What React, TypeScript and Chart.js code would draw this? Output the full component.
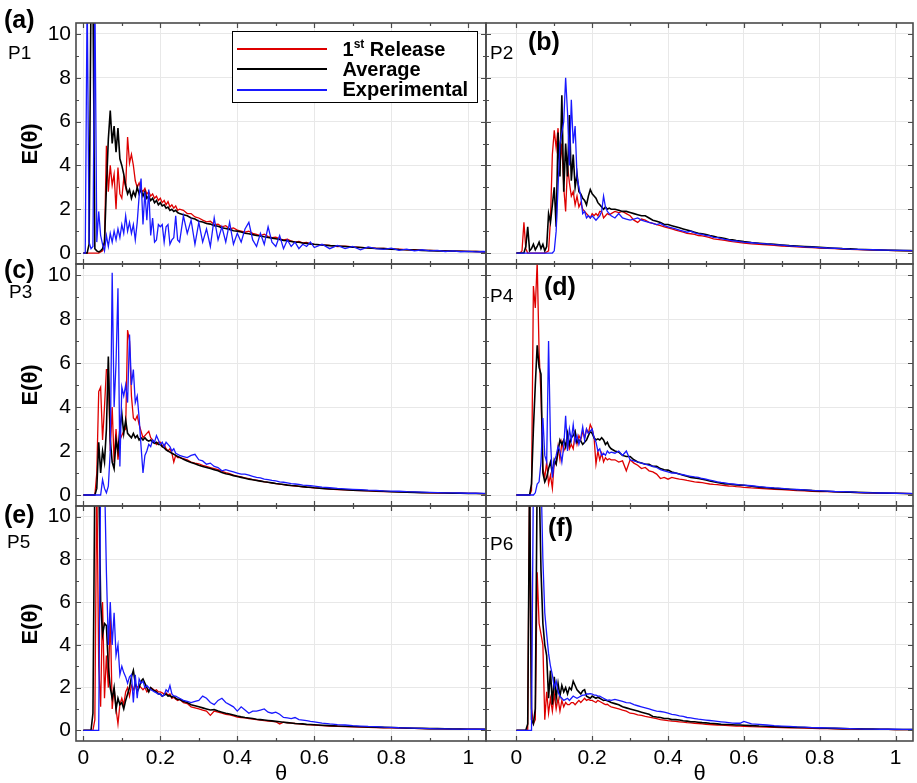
import React, { useEffect, useRef } from "react";
import { Chart, registerables } from "chart.js";

Chart.register(...registerables);

const FONT = "'Liberation Sans', Arial, Helvetica, sans-serif";
Chart.defaults.font.family = FONT;

// ---------------- DATA ----------------
const THETA = [
  0, 0.005, 0.01, 0.015, 0.02, 0.025, 0.03, 0.035, 0.04, 0.045,
  0.05, 0.055, 0.06, 0.065, 0.07, 0.075, 0.08, 0.085, 0.09, 0.095,
  0.1, 0.105, 0.11, 0.115, 0.12, 0.125, 0.13, 0.135, 0.14, 0.145,
  0.15, 0.155, 0.16, 0.165, 0.17, 0.175, 0.18, 0.185, 0.19, 0.195,
  0.2, 0.205, 0.21, 0.215, 0.22, 0.225, 0.23, 0.235, 0.24, 0.245, 0.25,
  0.26, 0.27, 0.28, 0.29, 0.3, 0.31, 0.32, 0.33, 0.34, 0.35,
  0.36, 0.37, 0.38, 0.39, 0.4, 0.41, 0.42, 0.43, 0.44, 0.45,
  0.46, 0.47, 0.48, 0.49, 0.5, 0.51, 0.52, 0.53, 0.54, 0.55,
  0.56, 0.57, 0.58, 0.59, 0.6, 0.62, 0.64, 0.66, 0.68, 0.7,
  0.72, 0.74, 0.76, 0.78, 0.8, 0.82, 0.84, 0.86, 0.88, 0.9,
  0.92, 0.94, 0.96, 0.98, 1.0, 1.02, 1.04, 1.05,
];

const X_MAJOR = [0, 0.2, 0.4, 0.6, 0.8, 1];
const X_MINOR = [0.1, 0.3, 0.5, 0.7, 0.9];
const Y_MAJOR = [0, 2, 4, 6, 8, 10];
const Y_MINOR = [1, 3, 5, 7, 9];

const SERIES_NAMES = ["1st Release", "Average", "Experimental"];
const PANEL_TAGS = ["(a)", "(b)", "(c)", "(d)", "(e)", "(f)"];
const PROBES = ["P1", "P2", "P3", "P4", "P5", "P6"];

// P1
const P1_RELEASE = [
  0, 0, 0, 0, 0, 0, 0, 0, 0, 0.05,
  0.1, 0.4, 4.9, 2.8, 4.0, 3.1, 3.6, 2.0, 3.9, 2.7,
  2.5, 3.4, 3.0, 5.3, 4.1, 4.5, 4.0, 3.3, 3.0, 3.2,
  2.9, 2.8, 2.95, 2.7, 2.8, 2.6, 2.7, 2.5, 2.6, 2.4,
  2.5, 2.3, 2.4, 2.2, 2.35, 2.1, 2.2, 2.05, 2.15, 1.95, 2.0,
  1.95, 1.8, 1.8, 1.65, 1.6, 1.5, 1.42, 1.45, 1.3, 1.32,
  1.2, 1.25, 1.1, 1.15, 1.05, 1.0, 0.95, 1.0, 0.9, 0.85,
  0.8, 0.86, 0.75, 0.7, 0.72, 0.65, 0.6, 0.63, 0.55, 0.5,
  0.53, 0.46, 0.48, 0.42, 0.4, 0.37, 0.35, 0.3, 0.32, 0.28,
  0.26, 0.24, 0.22, 0.21, 0.19, 0.18, 0.15, 0.16, 0.13, 0.12,
  0.11, 0.1, 0.09, 0.09, 0.08, 0.07, 0.06, 0.06,
];
const P1_AVERAGE = [
  0, 0, 0, 0.4, 12, 12, 0.2, 0.1, 0.05, 0.1,
  0.2, 0.5, 3.0, 5.2, 6.5, 5.0, 5.8, 4.6, 5.7, 4.3,
  4.0, 3.6, 3.1, 2.7, 2.9, 2.5, 2.8, 2.6, 3.0, 2.7,
  2.9, 2.6, 2.8, 2.5, 2.6, 2.4, 2.5, 2.3, 2.4, 2.2,
  2.3, 2.15, 2.2, 2.05, 2.1, 1.95, 2.0, 1.9, 1.95, 1.85, 1.8,
  1.75, 1.7, 1.6, 1.55, 1.45, 1.42, 1.35, 1.32, 1.25, 1.22,
  1.15, 1.12, 1.08, 1.02, 1.0, 0.96, 0.9, 0.88, 0.84, 0.8,
  0.78, 0.74, 0.71, 0.68, 0.65, 0.62, 0.58, 0.56, 0.53, 0.5,
  0.49, 0.46, 0.44, 0.42, 0.4, 0.37, 0.34, 0.32, 0.3, 0.27,
  0.25, 0.23, 0.21, 0.2, 0.18, 0.16, 0.15, 0.14, 0.12, 0.11,
  0.1, 0.09, 0.09, 0.08, 0.07, 0.07, 0.06, 0.06,
];
const P1_EXPERIMENTAL = [
  0, 0, 12, 0.5, 0.2, 0.3, 12, 0.5, 1.9, 0.8,
  0.4, 0.1, 0.8, 0.3, 0.9, 0.5, 1.0, 0.6, 1.1, 0.7,
  1.3, 0.9, 1.7, 1.0, 1.4, 0.9, 1.3, 0.6, 1.4, 2.6,
  3.4, 1.3, 2.8, 1.5, 2.9, 0.8, 1.6, 0.5, 0.6, 1.3,
  1.2, 1.3, 0.5, 1.2, 1.3, 0.4, 0.6, 0.7, 1.7, 0.6, 0.5,
  1.7, 0.9, 1.5, 0.4, 1.4, 0.5, 1.1, 0.3, 1.6, 0.6,
  1.2, 0.5, 1.4, 0.4, 0.9, 0.5, 1.1, 1.4, 0.6, 0.3,
  0.9, 0.4, 1.2, 0.5, 0.3, 0.8, 0.2, 0.6, 0.3, 0.5,
  0.2, 0.4, 0.3, 0.5, 0.25, 0.4, 0.2, 0.35, 0.2, 0.3,
  0.15, 0.28, 0.2, 0.17, 0.22, 0.12, 0.18, 0.1, 0.15, 0.1,
  0.12, 0.07, 0.1, 0.06, 0.08, 0.05, 0.07, 0.05,
];

// P2
const P2_RELEASE = [
  0, 0, 0, 0.1, 1.4, 0.2, 0, 0, 0, 0,
  0, 0, 0, 0, 0, 0, 0.05, 0.1, 1.5, 4.5,
  5.6, 4.8, 5.7, 4.0, 5.0, 3.0, 1.9, 4.0, 3.2, 2.6,
  2.8, 2.2, 2.6, 2.1, 2.3, 2.0, 1.9, 1.8, 1.7, 1.6,
  1.8, 1.7, 1.8, 1.7, 1.9, 1.9, 1.6, 1.7, 1.8, 1.75, 1.8,
  1.9, 1.85, 1.9, 1.8, 1.7, 1.5, 1.4, 1.55, 1.5, 1.4,
  1.35, 1.3, 1.25, 1.2, 1.15, 1.1, 1.05, 1.0, 0.95, 0.9,
  0.88, 0.85, 0.8, 0.78, 0.75, 0.7, 0.65, 0.62, 0.6, 0.58,
  0.55, 0.52, 0.5, 0.48, 0.45, 0.42, 0.4, 0.37, 0.35, 0.32,
  0.3, 0.28, 0.26, 0.25, 0.23, 0.21, 0.2, 0.18, 0.17, 0.16,
  0.15, 0.14, 0.13, 0.12, 0.11, 0.11, 0.1, 0.1,
];
const P2_AVERAGE = [
  0, 0, 0, 0, 0, 0.3, 1.2, 0.1, 0.2, 0.4,
  0.15, 0.3, 0.5, 0.2, 0.4, 0.1, 0.3, 1.8, 1.4, 2.2,
  3.0, 1.2, 5.5, 3.5, 7.2, 2.8, 5.0, 3.5, 6.3, 3.3,
  4.5, 3.0, 3.6, 2.8, 2.7, 2.5, 2.4, 2.2, 2.6, 2.9,
  2.7, 2.6, 2.5, 2.3, 2.2, 2.1, 2.0, 2.1, 2.0, 2.05, 2.0,
  2.0, 1.95, 1.9, 1.9, 1.85, 1.8, 1.75, 1.7, 1.7, 1.6,
  1.5, 1.45, 1.4, 1.3, 1.3, 1.25, 1.2, 1.15, 1.1, 1.05,
  1.0, 0.95, 0.9, 0.88, 0.85, 0.8, 0.76, 0.72, 0.7, 0.66,
  0.62, 0.6, 0.57, 0.55, 0.52, 0.48, 0.45, 0.42, 0.4, 0.37,
  0.34, 0.32, 0.3, 0.28, 0.26, 0.24, 0.22, 0.2, 0.19, 0.17,
  0.16, 0.15, 0.14, 0.13, 0.12, 0.11, 0.11, 0.1,
];
const P2_EXPERIMENTAL = [
  0, 0, 0, 0, 0, 0, 0, 0, 0, 0,
  0, 0, 0, 0, 0, 0, 0, 0, 0, 0,
  0.1, 1.0, 3.0, 5.0, 5.5, 6.0, 8.0, 6.4, 4.0, 7.0,
  5.0, 5.8, 3.5, 3.0, 2.6, 1.8, 1.9, 1.6, 1.7, 1.6,
  1.7, 1.6, 1.5, 1.6, 1.7, 1.9, 2.6, 2.1, 1.9, 1.8, 1.7,
  1.6, 1.8, 1.6, 1.55, 1.5, 1.55, 1.6, 1.5, 1.45, 1.4,
  1.35, 1.3, 1.35, 1.25, 1.2, 1.15, 1.1, 1.05, 1.0, 0.95,
  1.0, 0.92, 0.88, 0.85, 0.8, 0.78, 0.72, 0.7, 0.66, 0.62,
  0.6, 0.56, 0.55, 0.52, 0.5, 0.47, 0.44, 0.42, 0.38, 0.36,
  0.33, 0.3, 0.28, 0.27, 0.25, 0.23, 0.22, 0.2, 0.18, 0.17,
  0.16, 0.15, 0.14, 0.13, 0.12, 0.12, 0.11, 0.11,
];

// P3
const P3_RELEASE = [
  0, 0, 0, 0, 0, 0, 0, 1.0, 4.7, 4.9,
  2.5, 4.0, 5.7, 5.7, 2.0, 4.0, 1.5, 3.0, 1.6, 2.5,
  2.7, 2.9, 3.0, 7.5, 7.0, 4.5, 3.5, 3.4, 3.6, 3.2,
  2.9, 2.6, 2.7, 2.8, 2.9, 2.6, 2.5, 2.4, 2.3, 2.4,
  2.4, 2.2, 2.3, 2.1, 2.0, 2.1, 1.9, 1.5, 1.8, 1.7, 1.7,
  1.65, 1.6, 1.5, 1.45, 1.42, 1.35, 1.3, 1.25, 1.2, 1.15,
  1.08, 1.02, 0.97, 0.9, 0.86, 0.82, 0.78, 0.74, 0.7, 0.67,
  0.64, 0.6, 0.57, 0.55, 0.52, 0.49, 0.47, 0.45, 0.43, 0.41,
  0.39, 0.37, 0.36, 0.34, 0.32, 0.3, 0.27, 0.25, 0.23, 0.21,
  0.2, 0.19, 0.17, 0.16, 0.15, 0.14, 0.13, 0.12, 0.11, 0.1,
  0.09, 0.09, 0.08, 0.08, 0.07, 0.07, 0.06, 0.06,
];
const P3_AVERAGE = [
  0, 0, 0, 0, 0, 0, 0, 0.3, 2.4, 1.0,
  2.0, 1.5, 3.0, 6.3, 2.5, 1.5, 1.2, 2.5, 2.0, 3.0,
  3.7, 2.8, 3.4, 2.8, 2.7, 2.6, 2.8, 2.6, 2.7, 2.5,
  2.6, 2.5, 2.6, 2.5, 2.45, 2.5, 2.4, 2.35, 2.4, 2.3,
  2.3, 2.2, 2.15, 2.05, 2.0, 1.95, 1.9, 1.85, 1.8, 1.75, 1.72,
  1.62, 1.55, 1.48, 1.42, 1.35, 1.3, 1.25, 1.2, 1.15, 1.1,
  1.02, 0.97, 0.93, 0.88, 0.84, 0.8, 0.76, 0.72, 0.69, 0.66,
  0.63, 0.6, 0.58, 0.55, 0.52, 0.5, 0.48, 0.45, 0.43, 0.42,
  0.4, 0.38, 0.36, 0.35, 0.33, 0.3, 0.28, 0.26, 0.24, 0.22,
  0.21, 0.19, 0.18, 0.17, 0.15, 0.14, 0.13, 0.12, 0.11, 0.1,
  0.1, 0.09, 0.08, 0.08, 0.07, 0.07, 0.06, 0.06,
];
const P3_EXPERIMENTAL = [
  0, 0, 0, 0, 0, 0, 0, 0, 0, 0,
  0.7, 0.3, 0.1, 0.4, 2.0, 10.1, 4.0, 6.0, 9.4, 1.3,
  4.9, 4.5, 5.0, 4.2, 7.3, 5.0, 5.7, 4.2, 4.5, 3.5,
  2.2, 1.0, 1.8, 2.0, 2.3, 2.2, 2.5, 2.4, 2.7, 2.5,
  2.3, 2.4, 2.2, 2.4, 2.3, 2.2, 2.0, 2.1, 1.9, 1.85, 1.8,
  1.75, 1.7, 1.8, 1.85, 1.6, 1.55, 1.4, 1.45, 1.3, 1.25,
  1.1, 1.15, 1.1, 1.05, 1.0, 0.95, 0.95, 0.9, 0.85, 0.8,
  0.78, 0.72, 0.7, 0.66, 0.64, 0.6, 0.58, 0.55, 0.52, 0.5,
  0.48, 0.45, 0.44, 0.42, 0.4, 0.36, 0.33, 0.3, 0.28, 0.26,
  0.24, 0.22, 0.21, 0.19, 0.18, 0.17, 0.15, 0.14, 0.13, 0.12,
  0.11, 0.1, 0.1, 0.09, 0.08, 0.08, 0.07, 0.07,
];

// P4
const P4_RELEASE = [
  0, 0, 0, 0, 0, 0, 0, 0, 0.2, 9.5,
  8.5, 10.6, 6.5, 4.5, 1.2, 0.8, 1.5, 0.5, 0.9, 0.3,
  1.5, 1.4, 2.2, 1.6, 2.4, 2.0, 2.2, 2.5, 2.1, 2.3,
  2.1, 2.8, 2.3, 2.7, 2.5, 2.9, 2.6, 3.0, 2.8, 3.2,
  3.0, 2.6, 1.4, 2.0, 1.6, 1.9, 1.5, 1.7, 1.6, 1.65, 1.6,
  1.6, 1.5, 1.55, 1.1, 1.6, 1.45, 1.35, 1.2, 1.25, 1.1,
  1.05, 0.95, 0.75, 0.8, 0.72, 0.8, 0.76, 0.72, 0.7, 0.66,
  0.63, 0.6, 0.58, 0.56, 0.53, 0.5, 0.48, 0.47, 0.45, 0.43,
  0.41, 0.4, 0.38, 0.37, 0.35, 0.32, 0.3, 0.28, 0.26, 0.24,
  0.22, 0.2, 0.19, 0.17, 0.16, 0.15, 0.14, 0.13, 0.12, 0.11,
  0.1, 0.09, 0.08, 0.08, 0.07, 0.07, 0.06, 0.06,
];
const P4_AVERAGE = [
  0, 0, 0, 0, 0, 0, 0, 0, 0.5, 3.0,
  5.0, 6.8, 5.8, 5.5, 1.0, 0.6, 0.8, 1.2, 1.5, 1.0,
  1.6, 1.4, 2.0, 2.5, 2.3, 2.5, 2.2, 2.8, 2.3, 2.6,
  2.7, 2.9, 2.4, 2.5, 2.45, 2.3, 2.4, 2.5, 2.7, 2.9,
  2.8, 2.6, 2.5, 2.55, 2.5, 2.6, 2.5, 2.3, 2.4, 2.2, 2.1,
  2.0, 1.95, 1.8, 1.75, 1.75, 1.6, 1.5, 1.45, 1.4, 1.4,
  1.3, 1.3, 1.2, 1.15, 1.13, 1.05, 1.0, 0.95, 0.9, 0.85,
  0.8, 0.78, 0.75, 0.72, 0.68, 0.64, 0.6, 0.57, 0.54, 0.5,
  0.5, 0.48, 0.46, 0.45, 0.44, 0.4, 0.36, 0.33, 0.3, 0.28,
  0.26, 0.24, 0.22, 0.2, 0.18, 0.17, 0.15, 0.14, 0.13, 0.12,
  0.11, 0.1, 0.09, 0.08, 0.08, 0.07, 0.06, 0.06,
];
const P4_EXPERIMENTAL = [
  0, 0, 0, 0, 0, 0, 0, 0, 0, 0,
  0.1, 0.5, 0.6, 1.5, 3.5, 1.8, 1.5, 7.0, 2.5, 0.8,
  1.5, 1.8, 2.2, 2.0, 1.5, 2.2, 3.6, 2.0, 3.0, 2.5,
  3.2, 2.4, 2.7, 2.3, 2.6, 3.1, 2.5, 3.0, 2.8, 2.9,
  3.0, 2.6, 2.4, 2.0, 2.1, 1.8, 1.9, 1.8, 2.0, 1.9, 1.95,
  1.9, 2.0, 1.8, 2.0, 1.6, 1.55, 1.5, 1.45, 1.4, 1.35,
  1.3, 1.25, 1.15, 1.1, 1.05, 1.0, 1.0, 0.95, 0.92, 0.88,
  0.85, 0.82, 0.8, 0.75, 0.72, 0.68, 0.64, 0.6, 0.57, 0.55,
  0.52, 0.5, 0.48, 0.46, 0.45, 0.42, 0.38, 0.35, 0.32, 0.3,
  0.27, 0.25, 0.23, 0.21, 0.2, 0.18, 0.16, 0.15, 0.14, 0.12,
  0.11, 0.1, 0.09, 0.09, 0.08, 0.07, 0.07, 0.06,
];

// P5
const P5_RELEASE = [
  0, 0, 0, 0, 0, 0, 0.5, 12, 3.0, 1.1,
  6.0, 1.5, 3.5, 2.0, 5.5, 1.0, 2.0, 1.0, 0.3, 1.2,
  1.5, 1.2, 1.8, 2.0, 1.6, 2.1, 1.9, 2.2, 2.0, 2.1,
  2.0, 1.9, 2.0, 1.8, 1.9, 2.0, 1.95, 1.85, 1.9, 1.8,
  1.8, 1.75, 1.7, 1.75, 1.65, 1.7, 1.5, 1.55, 1.45, 1.4, 1.45,
  1.3, 1.25, 1.1, 1.05, 1.0, 0.95, 0.9, 0.7, 0.9, 0.85,
  0.8, 0.75, 0.72, 0.68, 0.62, 0.6, 0.58, 0.55, 0.52, 0.5,
  0.48, 0.45, 0.43, 0.42, 0.4, 0.3, 0.38, 0.35, 0.34, 0.32,
  0.3, 0.28, 0.27, 0.26, 0.24, 0.22, 0.2, 0.19, 0.17, 0.16,
  0.15, 0.14, 0.13, 0.12, 0.11, 0.1, 0.09, 0.09, 0.08, 0.07,
  0.07, 0.06, 0.06, 0.05, 0.05, 0.05, 0.04, 0.04,
];
const P5_AVERAGE = [
  0, 0, 0, 0, 0, 0.8, 12, 12, 12, 6.0,
  4.5, 5.0, 4.9, 3.0, 2.0, 1.5, 2.0, 1.0, 1.5, 1.2,
  1.3, 1.0, 1.4, 1.7, 2.0, 2.5, 2.8, 2.2, 1.8, 2.0,
  2.3, 2.4, 2.2, 2.0, 1.8, 2.0, 1.9, 1.85, 1.8, 1.7,
  1.7, 1.6, 1.65, 1.7, 1.6, 1.62, 1.55, 1.6, 1.5, 1.45, 1.45,
  1.35, 1.3, 1.2, 1.15, 1.1, 1.05, 1.0, 0.95, 0.97, 0.9,
  0.85, 0.8, 0.76, 0.72, 0.67, 0.63, 0.6, 0.58, 0.55, 0.52,
  0.5, 0.48, 0.46, 0.44, 0.42, 0.4, 0.38, 0.36, 0.34, 0.32,
  0.31, 0.3, 0.28, 0.27, 0.26, 0.24, 0.22, 0.2, 0.19, 0.18,
  0.17, 0.16, 0.15, 0.14, 0.13, 0.12, 0.11, 0.1, 0.09, 0.08,
  0.08, 0.07, 0.06, 0.06, 0.05, 0.05, 0.05, 0.04,
];
const P5_EXPERIMENTAL = [
  0, 0, 0, 0, 0, 0, 0, 0, 0, 12,
  12, 12, 7.4, 4.0, 6.0, 4.0, 5.5, 3.5, 4.0, 2.6,
  3.0, 2.7, 2.5, 2.2, 2.5, 2.6, 1.3, 2.6, 1.5, 2.4,
  2.2, 2.3, 2.0, 2.1, 2.0, 1.9, 1.85, 1.8, 1.75, 1.7,
  1.7, 1.6, 1.65, 1.9, 1.8, 2.1, 1.7, 1.6, 1.6, 1.55, 1.5,
  1.4, 1.35, 1.3, 1.35, 1.4, 1.6, 1.5, 1.3, 1.2, 1.4,
  1.5, 1.3, 1.2, 1.1, 0.9, 1.1, 0.95, 0.8, 0.9, 0.9,
  0.95, 1.0, 0.85, 0.8, 0.85, 0.75, 0.6, 0.58, 0.55, 0.6,
  0.5, 0.48, 0.45, 0.42, 0.4, 0.34, 0.3, 0.27, 0.25, 0.22,
  0.2, 0.18, 0.17, 0.15, 0.14, 0.12, 0.11, 0.1, 0.09, 0.08,
  0.07, 0.07, 0.06, 0.06, 0.05, 0.05, 0.05, 0.04,
];

// P6
const P6_RELEASE = [
  0, 0, 0, 0, 0, 0, 0, 12, 1.0, 0.3,
  0.5, 7.4, 5.0, 4.5, 4.0, 0.5, 1.8, 0.8, 1.5, 0.9,
  1.7, 1.0, 1.5, 0.9, 1.4, 1.1, 1.3, 1.2, 1.2, 1.3,
  1.3, 1.2, 1.3, 1.4, 1.3, 1.4, 1.5, 1.4, 1.45, 1.4,
  1.4, 1.35, 1.3, 1.4, 1.35, 1.3, 1.25, 1.2, 1.22, 1.15, 1.1,
  1.05, 1.0, 0.95, 0.9, 0.8, 0.78, 0.72, 0.7, 0.65, 0.62,
  0.58, 0.55, 0.5, 0.48, 0.45, 0.43, 0.42, 0.4, 0.38, 0.36,
  0.35, 0.33, 0.32, 0.3, 0.28, 0.27, 0.26, 0.25, 0.24, 0.23,
  0.22, 0.21, 0.2, 0.2, 0.19, 0.17, 0.16, 0.15, 0.14, 0.13,
  0.12, 0.11, 0.1, 0.09, 0.08, 0.08, 0.07, 0.06, 0.06, 0.05,
  0.05, 0.04, 0.04, 0.04, 0.03, 0.03, 0.03, 0.03,
];
const P6_AVERAGE = [
  0, 0, 0, 0, 0, 0, 0.3, 12, 0.5, 0.3,
  1.0, 12, 12, 7.5, 5.0, 4.0, 3.5, 1.5, 2.8, 1.2,
  2.5, 1.5, 2.2, 1.6, 2.1, 1.8, 2.0, 1.7, 2.0, 1.9,
  2.3, 2.1, 1.9, 1.8, 1.7, 1.85, 1.9, 1.6, 1.55, 1.5,
  1.6, 1.55, 1.5, 1.55, 1.5, 1.45, 1.4, 1.42, 1.38, 1.35, 1.3,
  1.25, 1.2, 1.1, 1.05, 1.0, 0.95, 0.9, 0.85, 0.8, 0.75,
  0.65, 0.62, 0.6, 0.55, 0.55, 0.5, 0.5, 0.48, 0.45, 0.43,
  0.4, 0.4, 0.38, 0.36, 0.35, 0.33, 0.32, 0.3, 0.28, 0.27,
  0.27, 0.26, 0.25, 0.25, 0.24, 0.22, 0.2, 0.19, 0.17, 0.16,
  0.15, 0.14, 0.13, 0.12, 0.11, 0.1, 0.09, 0.08, 0.07, 0.07,
  0.06, 0.06, 0.05, 0.05, 0.04, 0.04, 0.04, 0.04,
];
const P6_EXPERIMENTAL = [
  0, 0, 0, 0, 0, 0, 0, 0, 0, 12,
  12, 12, 12, 12, 8.0, 5.5, 4.5, 3.6, 3.0, 2.6,
  2.0, 2.3, 1.8, 1.6, 1.5, 1.4, 1.45, 1.5, 1.4, 1.5,
  1.6, 1.55, 1.5, 1.55, 1.6, 1.65, 1.65, 1.7, 1.7, 1.72,
  1.7, 1.65, 1.65, 1.6, 1.6, 1.55, 1.5, 1.45, 1.4, 1.42, 1.4,
  1.45, 1.4, 1.35, 1.3, 1.28, 1.2, 1.15, 1.1, 1.05, 1.0,
  0.95, 0.9, 0.88, 0.85, 0.8, 0.75, 0.72, 0.68, 0.65, 0.6,
  0.58, 0.55, 0.52, 0.5, 0.48, 0.46, 0.44, 0.42, 0.4, 0.38,
  0.36, 0.34, 0.33, 0.33, 0.42, 0.3, 0.28, 0.25, 0.22, 0.2,
  0.18, 0.16, 0.15, 0.13, 0.12, 0.11, 0.1, 0.09, 0.08, 0.07,
  0.06, 0.06, 0.05, 0.05, 0.05, 0.04, 0.04, 0.04,
];

const PANEL_SERIES = [
  [P1_RELEASE, P1_AVERAGE, P1_EXPERIMENTAL],
  [P2_RELEASE, P2_AVERAGE, P2_EXPERIMENTAL],
  [P3_RELEASE, P3_AVERAGE, P3_EXPERIMENTAL],
  [P4_RELEASE, P4_AVERAGE, P4_EXPERIMENTAL],
  [P5_RELEASE, P5_AVERAGE, P5_EXPERIMENTAL],
  [P6_RELEASE, P6_AVERAGE, P6_EXPERIMENTAL],
];

// ---------------- LAYOUT / STYLE ----------------
const PAGE_W = 917;
const PAGE_H = 783;
const COLS = [
  { left: 76, right: 486, xMin: -0.019 },
  { left: 486, right: 913, xMin: -0.08 },
];
const ROWS = [
  { top: 23, bottom: 264 },
  { top: 264, bottom: 506 },
  { top: 506, bottom: 741 },
];
const X_MAX = 1.046;
const Y_MIN = -0.5;
const Y_MAX = 10.5;
const Y_AXIS_W = 76;
const X_AXIS_H = 40;
const COLORS = ["rgb(222,0,0)", "#000000", "rgb(25,25,255)"];
const WIDTHS = [1.3, 1.6, 1.3];
const ORDERS = [3, 2, 1];
const GRID = "#e8e8e8";
const FRAME = "#4a4a4a";
const TICK_FONT_SIZE = 21;

const frameTicksPlugin = {
  id: "frameTicks",
  afterDraw(chart: any) {
    const { ctx, chartArea: a, scales } = chart;
    const xs = scales.x;
    const ys = scales.y;
    ctx.save();
    ctx.strokeStyle = FRAME;
    ctx.lineWidth = 1.2;
    ctx.beginPath();
    const seg = (x1: number, y1: number, x2: number, y2: number) => {
      ctx.moveTo(x1, y1);
      ctx.lineTo(x2, y2);
    };
    const xt = (vals: number[], len: number) =>
      vals.forEach((v) => {
        const px = Math.round(xs.getPixelForValue(v)) + 0.5;
        seg(px, a.bottom, px, a.bottom - len);
        seg(px, a.top, px, a.top + len);
      });
    const yt = (vals: number[], len: number) =>
      vals.forEach((v) => {
        const py = Math.round(ys.getPixelForValue(v)) + 0.5;
        seg(a.left, py, a.left + len, py);
        seg(a.right, py, a.right - len, py);
      });
    xt(X_MAJOR, 5);
    xt(X_MINOR, 3);
    yt(Y_MAJOR, 5);
    yt(Y_MINOR, 3);
    ctx.stroke();
    ctx.lineWidth = 1.6;
    ctx.strokeRect(a.left, a.top, a.right - a.left, a.bottom - a.top);
    ctx.restore();
  },
};

function Panel({ index }: { index: number }) {
  const ref = useRef<HTMLCanvasElement>(null);
  useEffect(() => {
    const col = index % 2;
    const row = Math.floor(index / 2);
    const c = COLS[col];
    const r = ROWS[row];
    const showY = col === 0;
    const showX = row === 2;
    const chart = new Chart(ref.current as HTMLCanvasElement, {
      type: "line",
      data: {
        datasets: PANEL_SERIES[index].map((ys, k) => ({
          label: SERIES_NAMES[k],
          data: THETA.map((x, i) => ({ x, y: ys[i] })),
          borderColor: COLORS[k],
          borderWidth: WIDTHS[k],
          pointRadius: 0,
          tension: 0,
          fill: false,
          order: ORDERS[k],
        })),
      },
      options: {
        responsive: false,
        animation: false,
        devicePixelRatio: 1,
        events: [],
        layout: {
          padding: {
            left: showY ? c.left - Y_AXIS_W : c.left,
            right: PAGE_W - c.right,
            top: r.top,
            bottom: PAGE_H - r.bottom - (showX ? X_AXIS_H : 0),
          },
        },
        plugins: { legend: { display: false }, tooltip: { enabled: false } },
        scales: {
          x: {
            type: "linear",
            min: c.xMin,
            max: X_MAX,
            afterBuildTicks: (s: any) => {
              s.ticks = X_MAJOR.map((v) => ({ value: v }));
            },
            afterFit: (s: any) => {
              s.height = showX ? X_AXIS_H : 0;
            },
            grid: { color: GRID, lineWidth: 1, drawTicks: false },
            border: { display: false },
            ticks: {
              display: showX,
              padding: 5,
              color: "#000",
              font: { size: TICK_FONT_SIZE, family: FONT },
              maxRotation: 0,
              autoSkip: false,
              callback: (v: any) => String(v),
            },
          },
          y: {
            type: "linear",
            min: Y_MIN,
            max: Y_MAX,
            afterBuildTicks: (s: any) => {
              s.ticks = Y_MAJOR.map((v) => ({ value: v }));
            },
            afterFit: (s: any) => {
              s.width = showY ? Y_AXIS_W : 0;
            },
            grid: { color: GRID, lineWidth: 1, drawTicks: false },
            border: { display: false },
            ticks: {
              display: showY,
              padding: 5,
              color: "#000",
              font: { size: TICK_FONT_SIZE, family: FONT },
              autoSkip: false,
              callback: (v: any) => String(v),
            },
          },
        },
      },
      plugins: [frameTicksPlugin],
    } as any);
    return () => chart.destroy();
  }, [index]);
  return (
    <canvas
      ref={ref}
      width={PAGE_W}
      height={PAGE_H}
      style={{ position: "absolute", left: 0, top: 0, width: PAGE_W, height: PAGE_H }}
    />
  );
}

const TAG_POS = [
  { left: 4, top: 7 },
  { left: 528, top: 29 },
  { left: 4, top: 257 },
  { left: 544, top: 274 },
  { left: 4, top: 502 },
  { left: 548, top: 515 },
];
const PROBE_POS = [
  { left: 8, top: 43 },
  { left: 490, top: 43 },
  { left: 9, top: 282 },
  { left: 490, top: 286 },
  { left: 7, top: 532 },
  { left: 490, top: 534 },
];
const YTITLE_CENTERS = [143.5, 385, 623.5];
const XTITLE_CENTERS = [281, 699.5];

function Legend() {
  const textStyle: React.CSSProperties = {
    position: "absolute",
    left: 109.5,
    fontSize: 20,
    fontWeight: "bold",
    lineHeight: "20px",
    whiteSpace: "nowrap",
  };
  return (
    <div
      style={{
        position: "absolute",
        left: 232,
        top: 31,
        width: 246,
        height: 72,
        boxSizing: "border-box",
        border: "1.5px solid #000",
        background: "#fff",
        fontFamily: FONT,
      }}
    >
      {COLORS.map((color, i) => (
        <div
          key={i}
          style={{
            position: "absolute",
            left: 3.5,
            width: 90,
            top: 16 + i * 20.3,
            height: 0,
            borderTop: `2px solid ${color}`,
          }}
        />
      ))}
      <div style={{ ...textStyle, top: 6.5 }}>
        1<span style={{ fontSize: 12, position: "relative", top: -8 }}>st</span> Release
      </div>
      <div style={{ ...textStyle, top: 26.5 }}>Average</div>
      <div style={{ ...textStyle, top: 46.5 }}>Experimental</div>
    </div>
  );
}

export default function App() {
  return (
    <div
      style={{
        position: "absolute",
        left: 0,
        top: 0,
        width: PAGE_W,
        height: PAGE_H,
        background: "#fff",
        overflow: "hidden",
        fontFamily: FONT,
        color: "#000",
      }}
    >
      {PANEL_SERIES.map((_, i) => (
        <Panel key={i} index={i} />
      ))}
      {PANEL_TAGS.map((t, i) => (
        <div
          key={"tag" + i}
          style={{
            position: "absolute",
            left: TAG_POS[i].left,
            top: TAG_POS[i].top,
            fontSize: 25,
            fontWeight: "bold",
            lineHeight: "25px",
            whiteSpace: "nowrap",
          }}
        >
          {t}
        </div>
      ))}
      {PROBES.map((p, i) => (
        <div
          key={"probe" + i}
          style={{
            position: "absolute",
            left: PROBE_POS[i].left,
            top: PROBE_POS[i].top,
            fontSize: 19,
            lineHeight: "19px",
            whiteSpace: "nowrap",
          }}
        >
          {p}
        </div>
      ))}
      {YTITLE_CENTERS.map((cy, i) => (
        <div
          key={"yt" + i}
          style={{
            position: "absolute",
            left: 30,
            top: cy,
            transform: "translate(-50%, -50%) rotate(-90deg)",
            fontSize: 22,
            fontWeight: "bold",
            lineHeight: "22px",
            whiteSpace: "nowrap",
          }}
        >
          E(θ)
        </div>
      ))}
      {XTITLE_CENTERS.map((cx, i) => (
        <div
          key={"xt" + i}
          style={{
            position: "absolute",
            left: cx,
            top: 773,
            transform: "translate(-50%, -50%)",
            fontSize: 22,
            lineHeight: "22px",
            whiteSpace: "nowrap",
          }}
        >
          θ
        </div>
      ))}
      <Legend />
    </div>
  );
}
